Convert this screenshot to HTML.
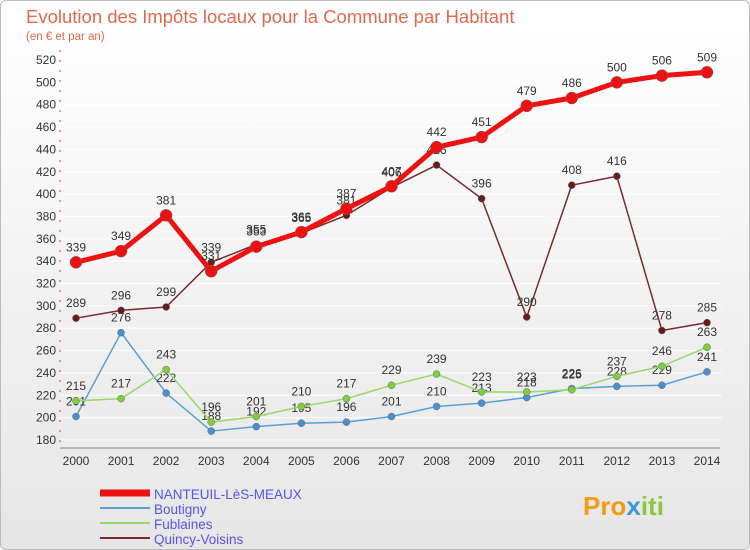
<!DOCTYPE html>
<html><head><meta charset="utf-8">
<style>
html,body{margin:0;padding:0;}
body{width:750px;height:550px;overflow:hidden;font-family:"Liberation Sans",sans-serif;}
#wrap{position:absolute;left:0;top:0;width:748px;height:548px;border:1px solid #bbb;border-radius:6px;background:linear-gradient(#ffffff,#e6e6e6);}
</style></head><body>
<div id="wrap">
<svg id="chart" width="750" height="550" style="position:absolute;left:-1px;top:-1px">
<text x="26" y="23" font-size="18.5" fill="#e06a4a">Evolution des Impôts locaux pour la Commune par Habitant</text>
<text x="26" y="40" font-size="11.5" fill="#e06a4a">(en € et par an)</text>
<g id="grid"></g><g id="axes"></g><g id="series"></g><g id="legend"></g>
<text x="583" y="515" font-size="26" font-weight="bold" fill="#f39c12">Pro<tspan fill="#3a9ad9">x</tspan><tspan fill="#8cc63f">iti</tspan></text>
</svg>
</div>
<script>
const years=[2000,2001,2002,2003,2004,2005,2006,2007,2008,2009,2010,2011,2012,2013,2014];
const yTicks=[180,200,220,240,260,280,300,320,340,360,380,400,420,440,460,480,500,520];
const nanteuil=[339,349,381,331,353,366,387,407,442,451,479,486,500,506,509];
const quincy=[289,296,299,339,355,365,381,406,426,396,290,408,416,278,285];
const boutigny=[201,276,222,188,192,195,196,201,210,213,218,226,228,229,241];
const fublaines=[215,217,243,196,201,210,217,229,239,223,223,225,237,246,263];
const NS='http://www.w3.org/2000/svg';
const x0=76,x1=707,yTop=60,yBot=440,vMin=180,vMax=520;
const X=i=>x0+(x1-x0)*i/(years.length-1);
const Y=v=>yBot-(v-vMin)/(vMax-vMin)*(yBot-yTop);
function mk(tag,at,parent){const e=document.createElementNS(NS,tag);for(const k in at)e.setAttribute(k,at[k]);document.getElementById(parent).appendChild(e);return e;}
yTicks.forEach(v=>{
 const l=mk('line',{x1:60,x2:x1+15,y1:Y(v),y2:Y(v),stroke:'#ffffff','stroke-width':1},'grid');
 
 
 const t=mk('text',{x:56,y:Y(v)+4,'font-size':12,'text-anchor':'end',fill:'#333'},'axes');
 t.textContent=v;
 
 
});
const ax=mk('line',{x1:60,x2:60,y1:50,y2:448,stroke:'#e33','stroke-width':1,'stroke-dasharray':'2,8'},'axes');


const xa=mk('line',{x1:60,x2:720,y1:448,y2:448,stroke:'#888','stroke-width':1},'axes');


years.forEach((yr,i)=>{
 const t=mk('text',{x:X(i),y:465,'font-size':12,'text-anchor':'middle',fill:'#333'},'axes');
 t.textContent=yr;
 
 
});
function series(vals,color,dot,w,r,name){
 const p=mk('polyline',{points:vals.map((v,i)=>X(i)+','+Y(v)).join(' '),fill:'none',stroke:color,'stroke-width':w,'stroke-linejoin':'round'},'series');
 
 
 vals.forEach((v,i)=>{
  const c=mk('circle',{cx:X(i),cy:Y(v),r:r,fill:dot,stroke:'#666','stroke-width':0.5},'series');
  
  
  const t=mk('text',{x:X(i),y:Y(v)-11,'font-size':12,'text-anchor':'middle',fill:'#333'},'series');
  t.textContent=v;
  
  
 });
}
series(quincy,'#7a2a2a','#6b1a1a',1.5,3.5,'quincy-voisins');
series(boutigny,'#5a9fd4','#4a90d0',1.5,3.5,'boutigny');
series(fublaines,'#9ad86a','#7cd040',1.5,3.5,'fublaines');
series(nanteuil,'#ee1111','#ee1111',5,6,'nanteuil');
const leg=[['NANTEUIL-LèS-MEAUX','#ee1111',7],['Boutigny','#5a9fd4',2],['Fublaines','#9ad86a',2],['Quincy-Voisins','#7a2a2a',2]];
leg.forEach((d,i)=>{
 const y=493+i*15;
 const l=mk('line',{x1:100,x2:150,y1:y,y2:y,stroke:d[1],'stroke-width':d[2]},'legend');
 
 
 const t=mk('text',{x:154,y:y+6,'font-size':13.5,fill:'#5555ee'},'legend');
 t.textContent=d[0];
 
 
});
</script>
</body></html>
